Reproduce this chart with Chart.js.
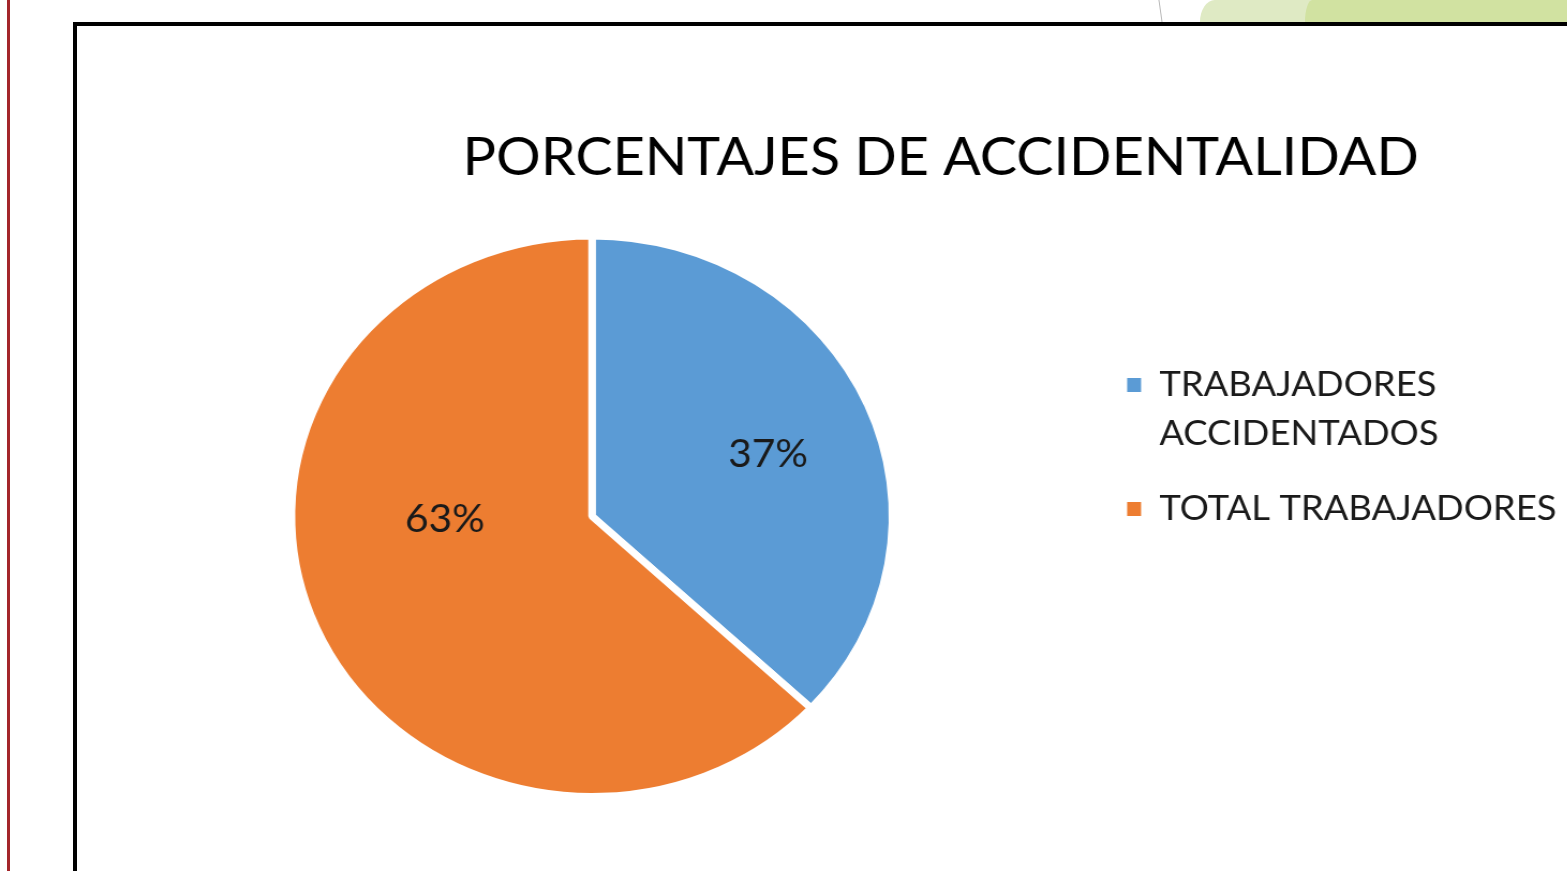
<!DOCTYPE html>
<html>
<head>
<meta charset="utf-8">
<script src="https://cdn.jsdelivr.net/npm/chart.js@4.4.1/dist/chart.umd.min.js"></script>
<style>
  html, body { margin: 0; padding: 0; background: #fff; width: 1567px; height: 871px; overflow: hidden; position: relative; }
  .redLine { position: absolute; left: 7px; top: 0; width: 3px; height: 871px; background: #a3262a; }
  .deco1 { position: absolute; left: 1200px; top: 0; width: 120px; height: 22px; background: #dfeac4; border-top-left-radius: 40px 60px; }
  .deco2 { position: absolute; left: 1305px; top: 0; width: 262px; height: 22px; background: #d1e2a1; border-top-left-radius: 20px 60px; }
  .grayLine { position: absolute; left: 1160px; top: 0; width: 1px; height: 22px; background: #b8b8b8; transform: skewX(8deg); }
  .frame { position: absolute; left: 73px; top: 22px; width: 1600px; height: 900px; border: 4px solid #000; box-sizing: border-box; }
  /* the slide screenshot is stretched horizontally, so stretch the chart the same way */
  .wrap { position: absolute; left: 0; top: 0; width: 1462px; height: 871px; transform: scaleX(1.072); transform-origin: 0 0; }
</style>
</head>
<body>
<div class="redLine"></div>
<div class="deco1"></div>
<div class="deco2"></div>
<div class="grayLine"></div>
<div class="frame"></div>
<div class="wrap"><canvas id="accidentChart" width="1462" height="871"></canvas></div>
<script>
// Data
const labels = [['TRABAJADORES', 'ACCIDENTADOS'], 'TOTAL TRABAJADORES'];
const values = [37, 63];
const valueLabels = ['37%', '63%'];
const colors = ['#5B9BD5', '#ED7D31'];

// Draws the percentage inside each slice (Excel "best fit" style)
const sliceLabels = {
    id: 'sliceLabels',
    afterDatasetsDraw: function(chart, args, opts) {
        const ctx = chart.ctx;
        const arcs = chart.getDatasetMeta(0).data;
        ctx.save();
        ctx.font = opts.font;
        ctx.fillStyle = opts.color;
        ctx.textAlign = 'center';
        ctx.textBaseline = 'middle';
        arcs.forEach((arc, i) => {
            const p = arc.getProps(['x', 'y', 'startAngle', 'endAngle', 'outerRadius']);
            const mid = (p.startAngle + p.endAngle) / 2 + (opts.angleShift[i] || 0) * Math.PI / 180;
            const r = p.outerRadius * opts.radiusFrac[i];
            ctx.fillText(valueLabels[i], p.x + Math.cos(mid) * r, p.y + Math.sin(mid) * r);
        });
        ctx.restore();
    }
};

// Title in the original sits right of the plot center; nudge its box
const titleShift = {
    id: 'titleShift',
    afterLayout: function(chart, args, opts) {
        const t = chart.titleBlock;
        if (!t) return;
        t.left += opts.dx;
        t.right += opts.dx;
    }
};

const chart = new Chart(document.getElementById('accidentChart'), {
    type: 'pie',
    data: {
        labels: labels,
        datasets: [{
            data: values,
            backgroundColor: colors,
            borderColor: '#ffffff',
            borderWidth: 7
        }]
    },
    plugins: [sliceLabels, titleShift],
    options: {
        responsive: false,
        animation: false,
        layout: { padding: { top: 0, bottom: 71, left: 79, right: 0 } },
        plugins: {
            tooltip: { enabled: false },
            title: {
                display: true,
                text: 'PORCENTAJES DE ACCIDENTALIDAD',
                color: '#000',
                font: { family: 'Lato', size: 52, weight: 'normal', lineHeight: 1.2 },
                padding: { top: 127, bottom: 43 }
            },
            titleShift: { dx: 107 },
            legend: {
                position: 'right',
                align: 'start',
                title: { display: true, text: '', font: { size: 10, lineHeight: 1.2 }, padding: { top: 330, bottom: 0 } },
                labels: {
                    color: '#1a1a1a',
                    boxWidth: 13,
                    boxHeight: 14,
                    padding: 26,
                    font: { family: 'Lato', size: 34, lineHeight: 49 / 34 },
                    generateLabels: function(chart) {
                        const items = Chart.overrides.pie.plugins.legend.labels.generateLabels(chart);
                        items.forEach(item => { item.lineWidth = 0; });
                        return items;
                    }
                }
            },
            sliceLabels: {
                font: '38px Lato',
                color: '#1a1a1a',
                radiusFrac: [0.625, 0.49],
                angleShift: [3, 22]
            }
        }
    }
});
</script>
</body>
</html>
